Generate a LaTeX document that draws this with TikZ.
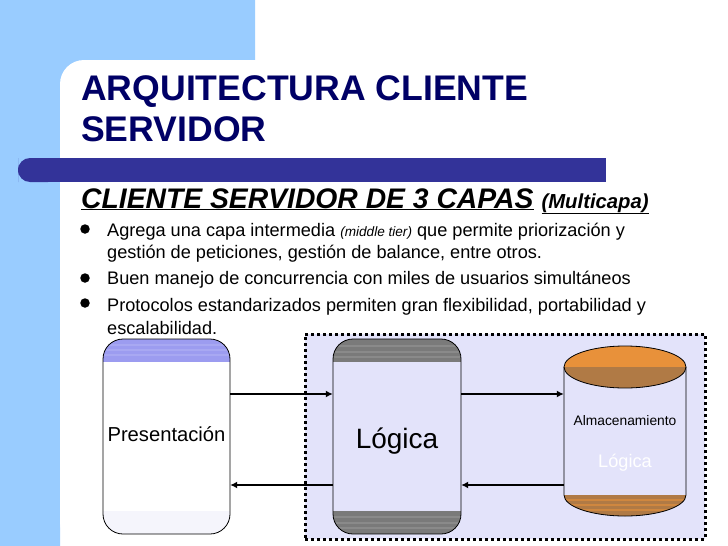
\documentclass[tikz,border=0pt]{standalone}
\usepackage{fontspec}
\setmainfont{Liberation Sans}
\usetikzlibrary{arrows.meta}
\definecolor{sky}{HTML}{99CCFF}
\definecolor{navy}{HTML}{000066}
\definecolor{barblue}{HTML}{333399}
\definecolor{lav}{HTML}{E3E3FA}
\definecolor{ptop}{HTML}{9C9CF0}
\definecolor{pbot}{HTML}{F5F5FC}
\definecolor{gtop}{HTML}{7A7A7A}
\definecolor{otop}{HTML}{E8913A}
\definecolor{obot}{HTML}{B07A45}
\tikzset{
 bodyline/.style={anchor=base west,inner sep=0pt,font=\fontsize{18.15}{18}\selectfont},
 dotmark/.style={circle,fill=black,inner sep=0pt,minimum size=9.5pt},
 tier/.style={minimum width=127pt,minimum height=195pt,inner sep=0pt},
 tierline/.style={draw=black,line width=0.8pt,rounded corners=20pt},
 link/.style={draw=black,line width=1.8pt,-{Latex[length=7pt,width=7pt]}},
}
\begin{document}
\begin{tikzpicture}[x=1pt,y=-1pt]
\useasboundingbox (0,0) rectangle (728,546);
\fill[white] (0,0) rectangle (728,546);
\fill[sky] (0,0) rectangle (255,60) (0,0) rectangle (60,546);
\fill[sky] (60,60) rectangle (85,85);
\fill[white,rounded corners=24pt] (60,546) -- (60,60) -- (255,60) -- (400,60) -- (400,546) -- cycle;
\fill[barblue,rounded corners=12pt] (18,170) -- (18,158) -- (60,158) -- (60,182) -- (18,182) -- cycle;
\fill[barblue] (40,158) rectangle (606,182);
\node[anchor=base west,inner sep=0pt,text=navy,font=\bfseries\fontsize{35.6}{36}\selectfont] (t1) at (81,100.5) {ARQUITECTURA CLIENTE};
\node[anchor=base west,inner sep=0pt,text=navy,font=\bfseries\fontsize{35.6}{36}\selectfont] (t2) at (81,141) {SERVIDOR};
\node[anchor=base west,inner sep=0pt,font=\bfseries\itshape\fontsize{28.3}{28}\selectfont] (sub) at (81,208) {\underline{CLIENTE SERVIDOR DE 3 CAPAS}\hspace{8pt}{\fontsize{20.3}{18}\selectfont\underline{(Multicapa)}}};
\node[dotmark] (b1) at (85,229) {};
\node[dotmark] (b2) at (85,278) {};
\node[dotmark] (b3) at (85,303) {};
\node[bodyline] (l1) at (107,236) {Agrega una capa intermedia {\itshape\fontsize{13.6}{12}\selectfont (middle tier)} que permite priorización y};
\node[bodyline] (l2) at (107,258) {gestión de peticiones, gestión de balance, entre otros.};
\node[bodyline] (l3) at (107,284) {Buen manejo de concurrencia con miles de usuarios simultáneos};
\node[bodyline] (l4) at (107,311) {Protocolos estandarizados permiten gran flexibilidad, portabilidad y};
\node[bodyline] (l5) at (107,334) {escalabilidad.};
% dotted zone
\node[draw=black,fill=lav,line width=3pt,dash pattern=on 3pt off 3pt,minimum width=400pt,minimum height=205pt,inner sep=0pt] (zone) at (505,436.5) {};
% presentacion
\begin{scope}
\clip[rounded corners=20pt] (103,339) rectangle (230,534);
\fill[white] (103,339) rectangle (230,534);
\fill[ptop] (103,339) rectangle (230,362);
\fill[pbot] (103,511) rectangle (230,534);
\foreach \y in {344,349,354} \fill[ptop!88!white] (103,\y) rectangle (230,\y+2);
\end{scope}
\draw[tierline] (103,339) rectangle (230,534);
\node[tier,font=\fontsize{20.2}{20}\selectfont] (pres) at (166.5,434) {Presentación};
% logica
\begin{scope}
\clip[rounded corners=20pt] (333,339) rectangle (461,534);
\fill[gtop] (333,339) rectangle (461,362);
\fill[gtop] (333,511) rectangle (461,534);
\foreach \y in {345,351,356,516,522,527} \fill[gtop!88!white] (333,\y) rectangle (461,\y+2);
\end{scope}
\draw[tierline] (333,339) rectangle (461,534);
\node[tier,minimum width=128pt,font=\fontsize{28}{28}\selectfont] (log) at (397,441.5) {Lógica};
% cylinder
\fill[lav] (564,367) rectangle (686,495);
\begin{scope}
\clip (564,495) arc[start angle=180,end angle=360,x radius=61pt,y radius=21pt] -- cycle;
\fill[obot] (564,495) rectangle (686,520);
\foreach \y in {499,504,509} \fill[otop!55!obot] (564,\y) rectangle (686,\y+1.6);
\end{scope}
\begin{scope}
\clip (625,367) ellipse[x radius=61pt,y radius=21pt];
\fill[otop] (564,346) rectangle (686,367);
\fill[obot] (564,367) rectangle (686,388);
\end{scope}
\draw[black,line width=0.8pt] (625,367) ellipse[x radius=61pt,y radius=21pt];
\draw[black,line width=0.8pt] (564,367) -- (564,495) arc[start angle=180,end angle=360,x radius=61pt,y radius=21pt] -- (686,367);
\node[minimum width=122pt,minimum height=192pt,inner sep=0pt] (alm) at (625,436.5) {};
\node[inner sep=0pt,font=\fontsize{13.8}{14}\selectfont] (almt) at (625,421) {Almacenamiento};
\node[inner sep=0pt,text=white,font=\fontsize{18.2}{18}\selectfont] (almw) at (625,462.5) {Lógica};
% connectors
\draw[link] (pres.east |- 0,394) -- (log.west |- 0,394);
\draw[link] (log.west |- 0,485) -- (pres.east |- 0,485);
\draw[link] (log.east |- 0,394) -- (alm.west |- 0,394);
\draw[link] (alm.west |- 0,485) -- (log.east |- 0,485);
\end{tikzpicture}
\end{document}
